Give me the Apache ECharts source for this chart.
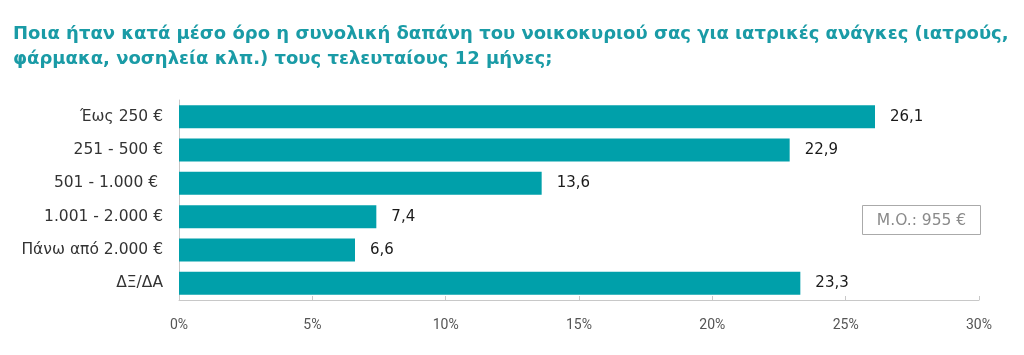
<!DOCTYPE html>
<html><head><meta charset="utf-8">
<script src="https://cdn.jsdelivr.net/npm/echarts@6/dist/echarts.min.js"></script>
<style>html,body{margin:0;padding:0;background:#fff}#c{width:1024px;height:355px}</style>
</head><body><div id="c"></div>
<script>
const titleText = 'Ποια ήταν κατά μέσο όρο η συνολική δαπάνη του νοικοκυριού σας για ιατρικές ανάγκες (ιατρούς,\nφάρμακα, νοσηλεία κλπ.) τους τελευταίους 12 μήνες;';
const categories = ['Έως 250 €', '251 - 500 €', '501 - 1.000 € ', '1.001 - 2.000 €', 'Πάνω από 2.000 €', 'ΔΞ/ΔΑ'];
const values = [26.1, 22.9, 13.6, 7.4, 6.6, 23.3];
const xTicks = [0, 5, 10, 15, 20, 25, 30];
const noteText = 'M.O.: 955 €';

const chart = echarts.init(document.getElementById('c'), null, {renderer: 'canvas'});
chart.setOption({
  animation: false,
  backgroundColor: '#fff',
  title: {
    text: titleText, left: 8, top: 17,
    textStyle: {color: '#1a9ba6', fontSize: 18, fontWeight: 'bold', fontFamily: 'DejaVu Sans', lineHeight: 25}
  },
  grid: {left: 179, right: 45, top: 100, bottom: 55},
  xAxis: {
    type: 'value', min: xTicks[0], max: xTicks[xTicks.length - 1], interval: 5,
    axisLine: {show: true, lineStyle: {color: '#c8c8c8'}},
    axisTick: {show: true, inside: true, length: 4, lineStyle: {color: '#c8c8c8'}},
    splitLine: {show: false},
    axisLabel: {formatter: v => v + '%', color: '#555', fontSize: 14, fontFamily: 'Roboto', margin: 18}
  },
  yAxis: {
    type: 'category', data: categories, inverse: true,
    axisLine: {show: true, lineStyle: {color: '#c8c8c8'}},
    axisTick: {show: false},
    axisLabel: {color: '#333', fontSize: 15.5, fontFamily: 'DejaVu Sans', margin: 16}
  },
  series: [{
    type: 'bar', data: values, barWidth: 23,
    itemStyle: {color: '#00a0aa'},
    label: {show: true, position: 'right', distance: 15,
      formatter: p => String(p.value).replace('.', ','),
      color: '#1a1a1a', fontSize: 15, fontWeight: 'normal', fontFamily: 'DejaVu Sans'}
  }],
  graphic: [{
    type: 'group', left: 862, top: 205,
    children: [
      {type: 'rect', shape: {x: 0, y: 0, width: 118, height: 29}, style: {fill: '#fff', stroke: '#aaaaaa', lineWidth: 1}},
      {type: 'text', x: 59, y: 15, style: {text: noteText, fill: '#8a8a8a', fontSize: 15.5, fontFamily: 'DejaVu Sans', align: 'center', verticalAlign: 'middle'}}
    ]
  }]
});
</script></body></html>
